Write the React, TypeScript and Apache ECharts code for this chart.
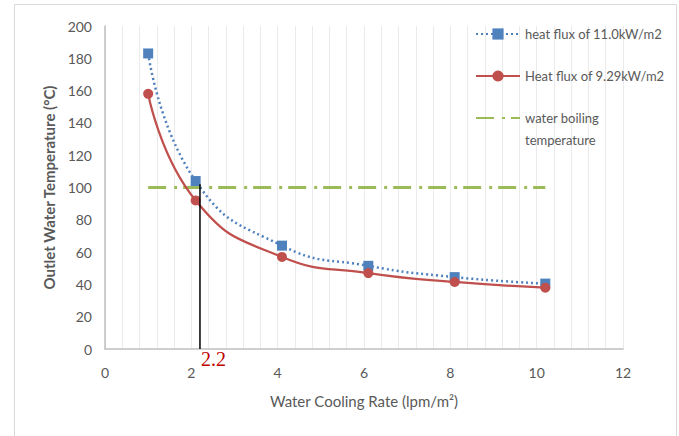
import React, { useEffect, useRef } from "react";
import * as echarts from "echarts";

const xHigh = [1, 2.1, 4.1, 6.1, 8.1, 10.2];
const yHigh = [183, 104, 64, 51.5, 44.5, 40.5];
const xLow = [1, 2.1, 4.1, 6.1, 8.1, 10.2];
const yLow = [158, 92, 57, 47, 41.5, 38];
const boilX = [1, 10.2];
const boilY = [100, 100];
const markerX = [2.2, 2.2];
const markerY = [0, 102];
const markerLabel = "2.2";

const nameHigh = "heat flux of 11.0kW/m2";
const nameLow = "Heat flux of 9.29kW/m2";
const nameBoil = "water boiling temperature";

const FONT = "Lato, 'Open Sans', sans-serif";

const zip = (xs: number[], ys: number[]) => xs.map((x, i) => [x, ys[i]]);

const frame = {
  type: "rect",
  shape: { x: 14.5, y: 4.5, width: 662, height: 440 },
  style: { fill: "none", stroke: "#d9d9d9", lineWidth: 1 },
  z: -1,
};

const legendCommon = {
  orient: "vertical",
  left: 475,
  padding: 0,
  itemWidth: 44,
  itemHeight: 14,
  itemGap: 20,
  textStyle: { color: "#595959", fontSize: 13, fontFamily: FONT, lineHeight: 22 },
};

export default function App() {
  const ref = useRef<HTMLDivElement>(null);
  useEffect(() => {
    if (!ref.current) return;
    const chart = echarts.init(ref.current, undefined, { renderer: "svg" });
    chart.setOption({
      animation: false,
      backgroundColor: "#ffffff",
      textStyle: { fontFamily: FONT },
      grid: { left: 105, right: 56, top: 26, bottom: 87, containLabel: false },
      graphic: [frame],
      legend: [
        {
          ...legendCommon,
          top: 23,
          data: [nameHigh, nameLow],
        },
        {
          ...legendCommon,
          top: 85,
          data: [{ name: nameBoil, itemStyle: { opacity: 0 } }],
          formatter: () => "\nwater boiling\ntemperature",
        },
      ],
      xAxis: {
        type: "value",
        min: 0,
        max: 12,
        interval: 2,
        name: "Water Cooling Rate (lpm/m²)",
        nameLocation: "middle",
        nameGap: 44,
        nameTextStyle: { color: "#595959", fontSize: 15, fontFamily: FONT },
        axisLine: { show: true, lineStyle: { color: "#bfbfbf", width: 1.5 } },
        axisTick: { show: false },
        axisLabel: { color: "#595959", fontSize: 14, margin: 16, fontFamily: FONT },
        splitLine: { show: true, lineStyle: { color: "#ebebeb", width: 1 } },
        minorTick: { show: false, splitNumber: 5 },
        minorSplitLine: { show: true, lineStyle: { color: "#ebebeb", width: 1 } },
      },
      yAxis: {
        type: "value",
        min: 0,
        max: 200,
        interval: 20,
        name: "Outlet Water Temperature (°C)",
        nameLocation: "middle",
        nameGap: 40,
        nameTextStyle: { color: "#595959", fontSize: 15, fontWeight: "bold", fontFamily: FONT },
        axisLine: { show: true, lineStyle: { color: "#bfbfbf", width: 1.5 } },
        axisTick: { show: false },
        axisLabel: { color: "#595959", fontSize: 14, margin: 13, fontFamily: FONT },
        splitLine: { show: false },
      },
      series: [
        {
          name: nameHigh,
          type: "line",
          smooth: 0.5,
          data: zip(xHigh, yHigh),
          symbol: "rect",
          symbolSize: 10,
          itemStyle: { color: "#4F81BD" },
          lineStyle: { color: "#4F81BD", width: 2.5, type: [2, 3] },
          z: 3,
        },
        {
          name: nameLow,
          type: "line",
          smooth: 0.5,
          data: zip(xLow, yLow),
          symbol: "circle",
          symbolSize: 10,
          itemStyle: { color: "#C0504D" },
          lineStyle: { color: "#C0504D", width: 2.25 },
          z: 4,
        },
        {
          name: nameBoil,
          type: "line",
          data: zip(boilX, boilY),
          symbol: "none",
          itemStyle: { color: "#9BBB59" },
          lineStyle: { color: "#9BBB59", width: 3, type: [18, 8, 3, 6] },
          z: 2,
        },
        {
          name: "marker",
          type: "line",
          data: zip(markerX, markerY),
          symbol: "none",
          lineStyle: { color: "#000000", width: 1.5 },
          z: 5,
        },
      ],
    });
    const p = chart.convertToPixel({ gridIndex: 0 }, [markerX[0], markerY[0]]) as number[];
    if (p && isFinite(p[0])) {
      chart.setOption({
        graphic: [
          frame,
          {
            type: "text",
            x: p[0] + 1,
            y: p[1],
            style: {
              text: markerLabel,
              fill: "#C00000",
              font: "20px 'Liberation Serif', 'DejaVu Serif', serif",
              textVerticalAlign: "top",
            },
            z: 10,
          },
        ],
      });
    }
    return () => chart.dispose();
  }, []);
  return (
    <div
      ref={ref}
      style={{ position: "fixed", left: 0, top: 0, width: 679, height: 436 }}
    />
  );
}
